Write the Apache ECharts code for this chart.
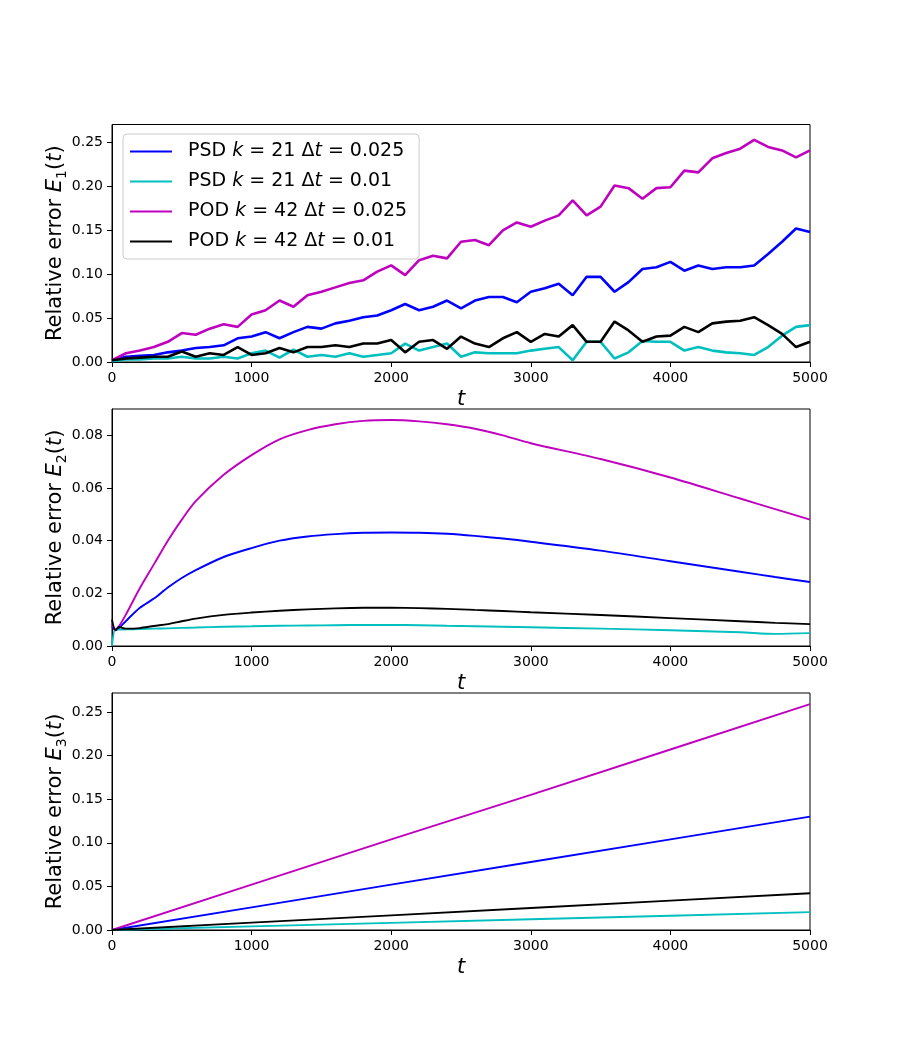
<!DOCTYPE html>
<html>
<head>
<meta charset="utf-8">
<script src="https://cdn.jsdelivr.net/npm/echarts@6/dist/echarts.min.js"></script>
<style>
  html, body { margin: 0; padding: 0; background: #fff; }
  #chart { width: 900px; height: 1045px; }
</style>
</head>
<body>
<div id="chart"></div>
<script>
// series names / colours
const names = ['PSD k21 dt0.025', 'PSD k21 dt0.01', 'POD k42 dt0.025', 'POD k42 dt0.01'];
const colors = ['#0000ff', '#00bfbf', '#bf00bf', '#000000'];
const legendLabels = [
  'PSD {i|k} = 21 Δ{i|t} = 0.025',
  'PSD {i|k} = 21 Δ{i|t} = 0.01',
  'POD {i|k} = 42 Δ{i|t} = 0.025',
  'POD {i|k} = 42 Δ{i|t} = 0.01'
];

// E1(t), t every 100
const tTop = [0, 100, 200, 300, 400, 500, 600, 700, 800, 900, 1000, 1100, 1200, 1300, 1400, 1500, 1600, 1700, 1800, 1900, 2000,
  2100, 2200, 2300, 2400, 2500, 2600, 2700, 2800, 2900, 3000, 3100, 3200, 3300, 3400, 3500, 3600, 3700, 3800, 3900, 4000,
  4100, 4200, 4300, 4400, 4500, 4600, 4700, 4800, 4900, 5000];
const e1PsdA = [0.002, 0.006, 0.007, 0.008, 0.011, 0.013, 0.016, 0.017, 0.019, 0.027, 0.029, 0.034, 0.027, 0.034, 0.040, 0.038, 0.044, 0.047, 0.051, 0.053, 0.059,
  0.066, 0.059, 0.063, 0.070, 0.061, 0.070, 0.074, 0.074, 0.068, 0.080, 0.084, 0.089, 0.076, 0.097, 0.097, 0.080, 0.091, 0.106, 0.108, 0.114,
  0.104, 0.110, 0.106, 0.108, 0.108, 0.110, 0.123, 0.137, 0.152, 0.148];
const e1PsdB = [0.001, 0.003, 0.003, 0.004, 0.004, 0.006, 0.004, 0.004, 0.006, 0.004, 0.010, 0.013, 0.005, 0.014, 0.006, 0.008, 0.006, 0.010, 0.006, 0.008, 0.010,
  0.021, 0.013, 0.017, 0.021, 0.006, 0.011, 0.010, 0.010, 0.010, 0.013, 0.015, 0.017, 0.002, 0.023, 0.023, 0.004, 0.011, 0.024, 0.023, 0.023,
  0.013, 0.017, 0.013, 0.011, 0.010, 0.008, 0.017, 0.030, 0.040, 0.042];
const e1PodA = [0.002, 0.010, 0.013, 0.017, 0.023, 0.033, 0.031, 0.038, 0.043, 0.040, 0.054, 0.059, 0.070, 0.063, 0.076, 0.080, 0.085, 0.090, 0.093, 0.103, 0.110,
  0.099, 0.116, 0.121, 0.118, 0.137, 0.139, 0.133, 0.150, 0.159, 0.154, 0.161, 0.167, 0.184, 0.167, 0.177, 0.201, 0.198, 0.186, 0.198, 0.199,
  0.218, 0.216, 0.232, 0.238, 0.243, 0.253, 0.245, 0.241, 0.233, 0.241];
const e1PodB = [0.002, 0.004, 0.005, 0.006, 0.006, 0.012, 0.006, 0.010, 0.008, 0.017, 0.008, 0.010, 0.016, 0.011, 0.017, 0.017, 0.019, 0.017, 0.021, 0.021, 0.025,
  0.011, 0.023, 0.025, 0.015, 0.029, 0.021, 0.017, 0.027, 0.034, 0.023, 0.032, 0.029, 0.042, 0.023, 0.023, 0.046, 0.036, 0.023, 0.029, 0.030,
  0.040, 0.034, 0.044, 0.046, 0.047, 0.051, 0.042, 0.032, 0.017, 0.023];

// E2(t)
const tMid = [0, 25, 50, 100, 200, 300, 400, 500, 600, 800, 1000, 1200, 1400, 1600, 1800, 2000, 2200, 2400, 2600, 2800, 3000, 3500, 4000, 4500, 4750, 5000];
const e2PsdA = [0.0075, 0.0060, 0.0068, 0.0095, 0.0145, 0.0180, 0.0222, 0.0258, 0.0288, 0.0338, 0.0372, 0.0400, 0.0416, 0.0425, 0.0430, 0.0431, 0.0430, 0.0426, 0.0418, 0.0408, 0.0396, 0.0362, 0.0322, 0.0282, 0.0262, 0.0243];
const e2PsdB = [0.0000, 0.0065, 0.0062, 0.0063, 0.0064, 0.0066, 0.0067, 0.0069, 0.0070, 0.0073, 0.0075, 0.0077, 0.0078, 0.0079, 0.0080, 0.0080, 0.0079, 0.0077, 0.0075, 0.0073, 0.0071, 0.0066, 0.0060, 0.0052, 0.0046, 0.0049];
const e2PodA = [0.0085, 0.0062, 0.0075, 0.0120, 0.0220, 0.0310, 0.0400, 0.0480, 0.0550, 0.0650, 0.0725, 0.0785, 0.0820, 0.0842, 0.0855, 0.0858, 0.0853, 0.0842, 0.0825, 0.0800, 0.0770, 0.0710, 0.0640, 0.0560, 0.0520, 0.0480];
const e2PodB = [0.0100, 0.0060, 0.0072, 0.0066, 0.0068, 0.0076, 0.0083, 0.0094, 0.0104, 0.0118, 0.0127, 0.0134, 0.0139, 0.0143, 0.0145, 0.0145, 0.0144, 0.0141, 0.0137, 0.0133, 0.0128, 0.0118, 0.0106, 0.0094, 0.0088, 0.0083];

// E3(t)
const tBot = [0, 1000, 2000, 3000, 4000, 5000];
const e3PsdA = [0, 0.026, 0.052, 0.078, 0.104, 0.130];
const e3PsdB = [0, 0.0041, 0.0082, 0.0123, 0.0164, 0.0205];
const e3PodA = [0, 0.052, 0.104, 0.155, 0.207, 0.259];
const e3PodB = [0, 0.0084, 0.0168, 0.0253, 0.0337, 0.0421];

// ticks
const xTicks = [0, 1000, 2000, 3000, 4000, 5000];
const yTicksBig = [0, 0.05, 0.10, 0.15, 0.20, 0.25];
const yTicksMid = [0, 0.02, 0.04, 0.06, 0.08];
const yMax = [0.2705, 0.09, 0.2718];

const FONT = 'DejaVu Sans';

const grids = [
  { left: 112, right: 90, top: 124.5, height: 237.5 },
  { left: 112, right: 90, top: 409, height: 237 },
  { left: 112, right: 90, top: 693, height: 237 }
].map(g => Object.assign(g, { show: true, borderColor: '#000', borderWidth: 1, backgroundColor: 'transparent' }));

const xAxes = [0, 1, 2].map(i => ({
  type: 'value',
  gridIndex: i,
  min: 0,
  max: 5000,
  name: 't',
  nameLocation: 'middle',
  nameGap: 27,
  nameTextStyle: { fontFamily: FONT, fontSize: 21, fontStyle: 'italic', color: '#000' },
  axisLine: { show: true, lineStyle: { color: '#000', width: 1 } },
  axisTick: { show: true, length: 5, lineStyle: { color: '#000' }, customValues: xTicks },
  axisLabel: { fontFamily: FONT, fontSize: 14, color: '#000', margin: 9, customValues: xTicks, formatter: v => String(v) },
  splitLine: { show: false }
}));

const yAxes = [0, 1, 2].map(i => {
  const ticks = i === 1 ? yTicksMid : yTicksBig;
  return {
    type: 'value',
    gridIndex: i,
    min: 0,
    max: yMax[i],
    name: 'Relative error {i|E}{s|' + (i + 1) + '}({i|t})',
    nameLocation: 'middle',
    nameGap: 43,
    nameMoveOverlap: false,
    nameTextStyle: {
      fontFamily: FONT, fontSize: 21, color: '#000', lineHeight: 26,
      rich: {
        i: { fontFamily: FONT, fontSize: 21, fontStyle: 'italic', color: '#000', lineHeight: 26 },
        s: { fontFamily: FONT, fontSize: 14, color: '#000', verticalAlign: 'bottom', lineHeight: 26 }
      }
    },
    axisLine: { show: true, lineStyle: { color: '#000', width: 1 } },
    axisTick: { show: true, length: 5, lineStyle: { color: '#000' }, customValues: ticks },
    axisLabel: {
      fontFamily: FONT, fontSize: 14, color: '#000', margin: 9, customValues: ticks,
      formatter: v => v.toFixed(2)
    },
    splitLine: { show: false }
  };
});

const blocks = [
  [tTop, [e1PsdA, e1PsdB, e1PodA, e1PodB]],
  [tMid, [e2PsdA, e2PsdB, e2PodA, e2PodB]],
  [tBot, [e3PsdA, e3PsdB, e3PodA, e3PodB]]
];

const series = [];
blocks.forEach(([ts, vals], gi) => {
  vals.forEach((arr, k) => {
    series.push({
      name: names[k],
      type: 'line',
      xAxisIndex: gi,
      yAxisIndex: gi,
      symbol: 'none',
      silent: true,
      smooth: gi === 1 ? 0.3 : false,
      data: ts.map((t, j) => [t, arr[j]]),
      lineStyle: { color: colors[k], width: gi === 0 ? 2.6 : 1.9 },
      itemStyle: { color: colors[k] },
      z: k
    });
  });
});

const chart = echarts.init(document.getElementById('chart'), null, { renderer: 'canvas' });
chart.setOption({
  animation: false,
  backgroundColor: '#fff',
  grid: grids,
  xAxis: xAxes,
  yAxis: yAxes,
  legend: {
    data: names,
    orient: 'vertical',
    left: 123,
    top: 134,
    icon: 'path://M0,0 H42 V2 H0 Z',
    itemWidth: 42,
    itemHeight: 2.2,
    itemGap: 9,
    padding: [7, 12, 7, 7],
    backgroundColor: 'rgba(255,255,255,0.8)',
    borderColor: '#cccccc',
    borderWidth: 1,
    borderRadius: 4,
    selectedMode: false,
    formatter: name => legendLabels[names.indexOf(name)],
    textStyle: {
      fontFamily: FONT, fontSize: 19, color: '#000', lineHeight: 21,
      padding: [0, 0, 0, 11],
      rich: { i: { fontFamily: FONT, fontSize: 19, fontStyle: 'italic', color: '#000' } }
    }
  },
  series: series
});
</script>
</body>
</html>
